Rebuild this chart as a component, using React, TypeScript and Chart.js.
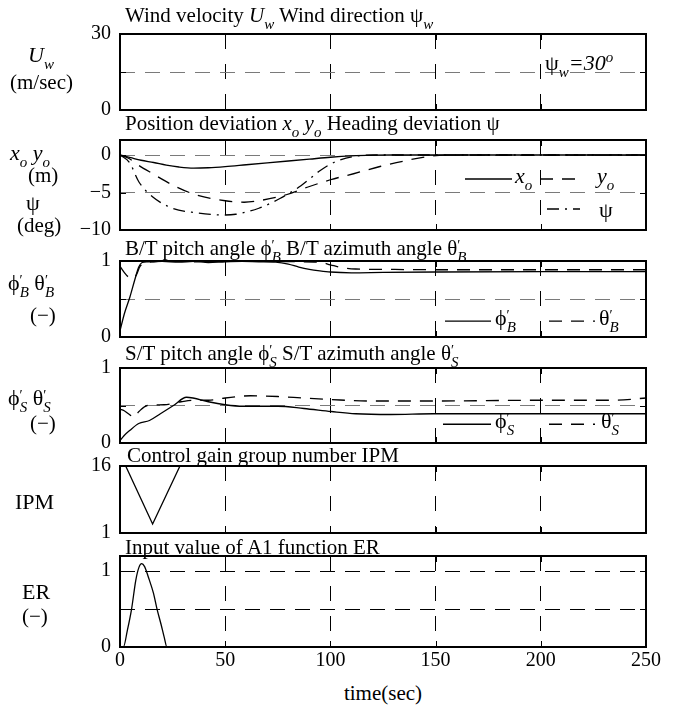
import React, { useEffect, useRef } from "react";
import { Chart, registerables } from "chart.js";
Chart.register(...registerables);

const W = 681, H = 709;
const LEFT = 120, RIGHT = 646;
const FONT = "'Liberation Serif', 'Times New Roman', Times, serif";
const GRAY = "#7a7a7a";

// ---------------- data ----------------
const X_TICKS = [0, 50, 100, 150, 200, 250];

// Panel 1: wind velocity (no visible trace – zero)
const tWind = [0, 250];
const uWind = [0, 0];

// Panel 2: position deviation x_o, y_o and heading deviation psi
const tXo = [0, 5, 10, 16, 22, 28, 35, 42, 50, 60, 70, 80, 90, 100, 110, 120, 130, 250];
const xo = [0, -0.35, -0.7, -1.0, -1.35, -1.6, -1.75, -1.7, -1.55, -1.3, -1.05, -0.8, -0.55, -0.3, -0.12, -0.03, 0, 0];
const tYo = [0, 4.5, 9, 15.6, 25, 36, 50, 59, 68, 79, 89, 100, 111, 124, 135, 148, 160, 250];
const yo = [0, -0.5, -1.4, -2.5, -4.0, -5.3, -6.1, -6.3, -6.0, -5.3, -4.3, -3.3, -2.5, -1.5, -0.8, -0.15, 0, 0];
const tPsi = [0, 4.5, 9, 15.6, 25, 36, 50, 55, 66, 76, 86, 95, 101.6, 111, 124, 250];
const psi = [0, -1, -3.6, -5.6, -7.1, -7.7, -8.0, -7.9, -7.1, -5.8, -4.1, -2.1, -1.0, -0.2, 0, 0];

// Panel 3: B/T pitch angle phi'_B and azimuth angle theta'_B
const tPhiB = [0, 2, 4.75, 7, 8.9, 10.5, 13, 20, 28, 35, 42, 50, 58, 66, 74, 80, 85, 90, 95, 100, 110, 125, 150, 200, 250];
const phiB = [0.08, 0.3, 0.53, 0.75, 0.92, 0.98, 0.99, 0.995, 0.985, 0.995, 0.98, 0.99, 0.995, 0.99, 0.985, 0.96, 0.92, 0.89, 0.87, 0.855, 0.845, 0.85, 0.855, 0.86, 0.86];
const tThB = [0, 2, 4, 6.3, 8, 9.5, 12, 16, 25, 35, 45, 55, 65, 75, 85, 95, 100, 105, 112, 125, 150, 200, 250];
const thB = [0.93, 0.85, 0.79, 0.77, 0.83, 0.93, 0.975, 0.99, 1.0, 0.99, 1.0, 0.995, 1.0, 0.995, 0.99, 0.985, 0.95, 0.915, 0.895, 0.89, 0.885, 0.885, 0.885];

// Panel 4: S/T pitch angle phi'_S and azimuth angle theta'_S
const tPhiS = [0, 2, 4.75, 8.9, 14, 19.2, 25.4, 31.6, 34.7, 42, 50, 58.5, 75, 87.4, 100.4, 112, 128.7, 149, 200, 250];
const phiS = [0.03, 0.1, 0.17, 0.26, 0.3, 0.39, 0.5, 0.61, 0.6, 0.55, 0.51, 0.49, 0.49, 0.46, 0.42, 0.39, 0.38, 0.39, 0.39, 0.39];
const tThS = [0, 2, 4.5, 6.5, 9, 13, 21, 29, 35, 42, 50, 62, 75, 87, 100, 118, 149, 200, 235, 250];
const thS = [0.45, 0.43, 0.38, 0.34, 0.42, 0.5, 0.51, 0.55, 0.57, 0.57, 0.6, 0.63, 0.62, 0.6, 0.58, 0.56, 0.56, 0.57, 0.57, 0.6];

// Panel 5: control gain group number IPM
const tIpm = [0, 2.7, 15.5, 28.5, 250];
const ipm = [16, 16, 3, 16, 16];

// Panel 6: input value of A1 function ER
const tEr = [0, 1.6, 3.5, 5.5, 7.5, 9, 10.3, 11.7, 13.5, 15.9, 17.6, 19.5, 21, 22.3, 250];
const er = [0, 0, 0.22, 0.5, 0.88, 1.05, 1.1, 1.06, 0.92, 0.71, 0.5, 0.3, 0.13, 0, 0];

// y tick values / labels
const yTicks1 = [0, 15, 30];
const yLabels1 = ["0", "", "30"];
const yTicks2 = [-10, -5, 0];
const yLabels2 = ["\u221210", "\u22125", "0"];
const yTicks3 = [0, 0.5, 1];
const yLabels3 = ["0", "", "1"];
const yTicks5 = [1, 16];
const yLabels5 = ["1", "16"];
const yTicks6 = [0, 0.5, 1];
const yLabels6 = ["0", "", "1"];

// ---------------- configuration ----------------
const SOLID: number[] = [];
const DASH = [13, 9];
const DASHDOT = [12, 6, 2, 6];

type Series = { t: number[]; v: number[]; dash: number[]; smooth: boolean };
type Leg = { x1: number; x2: number; v: number; dash: number[] };
type PanelCfg = {
  top: number; bottom: number; min: number; max: number;
  yTicks: number[]; yLabels: string[]; hGrid: number[]; hColor: string;
  series: Series[]; legend: Leg[]; last: boolean;
};

const PANELS: PanelCfg[] = [
  {
    top: 34, bottom: 110, min: 0, max: 30, yTicks: yTicks1, yLabels: yLabels1, hGrid: [15], hColor: GRAY,
    series: [{ t: tWind, v: uWind, dash: SOLID, smooth: false }], legend: [], last: false,
  },
  {
    top: 139.5, bottom: 229.5, min: -10, max: 2, yTicks: yTicks2, yLabels: yLabels2, hGrid: [0, -5], hColor: GRAY,
    series: [
      { t: tXo, v: xo, dash: SOLID, smooth: true },
      { t: tYo, v: yo, dash: DASH, smooth: true },
      { t: tPsi, v: psi, dash: DASHDOT, smooth: true },
    ],
    legend: [
      { x1: 465, x2: 512, v: -3.2, dash: SOLID },
      { x1: 540, x2: 578, v: -3.2, dash: DASH },
      { x1: 547, x2: 580, v: -7.2, dash: DASHDOT },
    ],
    last: false,
  },
  {
    top: 261, bottom: 337, min: 0, max: 1, yTicks: yTicks3, yLabels: yLabels3, hGrid: [0.5], hColor: GRAY,
    series: [
      { t: tPhiB, v: phiB, dash: SOLID, smooth: true },
      { t: tThB, v: thB, dash: DASH, smooth: true },
    ],
    legend: [
      { x1: 445, x2: 491, v: 0.21, dash: SOLID },
      { x1: 549, x2: 595, v: 0.21, dash: DASH },
    ],
    last: false,
  },
  {
    top: 367.5, bottom: 442.5, min: 0, max: 1, yTicks: yTicks3, yLabels: yLabels3, hGrid: [0.5], hColor: GRAY,
    series: [
      { t: tPhiS, v: phiS, dash: SOLID, smooth: true },
      { t: tThS, v: thS, dash: DASH, smooth: true },
    ],
    legend: [
      { x1: 443, x2: 491, v: 0.25, dash: SOLID },
      { x1: 549, x2: 595, v: 0.25, dash: DASH },
    ],
    last: false,
  },
  {
    top: 466, bottom: 533, min: 1, max: 16, yTicks: yTicks5, yLabels: yLabels5, hGrid: [], hColor: "#000",
    series: [{ t: tIpm, v: ipm, dash: SOLID, smooth: false }], legend: [], last: false,
  },
  {
    top: 556, bottom: 647, min: 0, max: 1.2, yTicks: yTicks6, yLabels: yLabels6, hGrid: [0.5, 1], hColor: "#000",
    series: [{ t: tEr, v: er, dash: SOLID, smooth: true }], legend: [], last: true,
  },
];

const PADT = 26, PADB = 26, XAXIS = 30, TICKLEN = 6;
const TRANSPARENT = "rgba(0,0,0,0)";

function Panel({ cfg }: { cfg: PanelCfg }) {
  const ref = useRef<HTMLCanvasElement>(null);
  const h = cfg.bottom - cfg.top + PADT + (cfg.last ? XAXIS : PADB);

  useEffect(() => {
    if (!ref.current) return;
    const framePlugin = {
      id: "frameAndLegend",
      afterDatasetsDraw(chart: any) {
        const { ctx, chartArea } = chart;
        const { left, right, top, bottom } = chartArea;
        const xs = chart.scales.x;
        const ys = chart.scales.y;
        ctx.save();
        ctx.strokeStyle = "#000";
        // legend line samples
        ctx.lineWidth = 1.3;
        for (const l of cfg.legend) {
          const y = ys.getPixelForValue(l.v);
          ctx.setLineDash(l.dash);
          ctx.beginPath();
          ctx.moveTo(l.x1, y);
          ctx.lineTo(l.x2, y);
          ctx.stroke();
        }
        ctx.setLineDash([]);
        // inward tick marks (top/bottom and left/right)
        ctx.lineWidth = 1;
        ctx.beginPath();
        for (const v of X_TICKS) {
          if (v <= 0 || v >= 250) continue;
          const px = Math.round(xs.getPixelForValue(v)) + 0.5;
          ctx.moveTo(px, top);
          ctx.lineTo(px, top + TICKLEN);
          ctx.moveTo(px, bottom);
          ctx.lineTo(px, bottom - TICKLEN);
        }
        for (const v of cfg.yTicks) {
          if (v <= cfg.min || v >= cfg.max) continue;
          const py = Math.round(ys.getPixelForValue(v)) + 0.5;
          ctx.moveTo(left, py);
          ctx.lineTo(left + TICKLEN, py);
          ctx.moveTo(right, py);
          ctx.lineTo(right - TICKLEN, py);
        }
        ctx.stroke();
        // frame
        ctx.lineWidth = 2;
        ctx.strokeRect(left, top, right - left, bottom - top);
        ctx.restore();
      },
    };

    const chart = new Chart(ref.current, {
      type: "line",
      data: {
        datasets: cfg.series.map((s) => ({
          data: s.t.map((t, i) => ({ x: t, y: s.v[i] })),
          borderColor: "#000",
          borderWidth: 1.3,
          borderDash: s.dash,
          pointRadius: 0,
          fill: false,
          tension: s.smooth ? 0.4 : 0,
          cubicInterpolationMode: s.smooth ? "monotone" : "default",
        })) as any,
      },
      options: {
        responsive: false,
        animation: false,
        devicePixelRatio: 1,
        layout: { padding: { left: 0, right: W - RIGHT, top: PADT, bottom: cfg.last ? 0 : PADB } },
        plugins: { legend: { display: false }, tooltip: { enabled: false } },
        scales: {
          x: {
            type: "linear",
            min: 0,
            max: 250,
            afterBuildTicks: (s: any) => {
              s.ticks = X_TICKS.map((v) => ({ value: v }));
            },
            afterFit: (s: any) => {
              s.height = cfg.last ? XAXIS : 0;
              s.paddingLeft = 0;
              s.paddingRight = 0;
            },
            ticks: {
              display: cfg.last,
              color: "#000",
              font: { family: FONT, size: 20 },
              padding: 2,
              maxRotation: 0,
              autoSkip: false,
            },
            grid: {
              drawTicks: false,
              lineWidth: 1,
              color: (c: any) => (c.tick && (c.tick.value === 0 || c.tick.value === 250) ? TRANSPARENT : "#000"),
            },
            border: { display: false, dash: [15, 15] },
          },
          y: {
            type: "linear",
            min: cfg.min,
            max: cfg.max,
            afterBuildTicks: (s: any) => {
              s.ticks = cfg.yTicks.map((v) => ({ value: v }));
            },
            afterFit: (s: any) => {
              s.width = LEFT;
              s.paddingTop = 0;
              s.paddingBottom = 0;
            },
            ticks: {
              color: "#000",
              font: { family: FONT, size: 20 },
              padding: 9,
              autoSkip: false,
              callback: (v: any) => {
                const i = cfg.yTicks.indexOf(Number(v));
                return i >= 0 ? cfg.yLabels[i] : "";
              },
            },
            grid: {
              drawTicks: false,
              lineWidth: 1,
              color: (c: any) => (c.tick && cfg.hGrid.includes(c.tick.value) ? cfg.hColor : TRANSPARENT),
            },
            border: { display: false, dash: [15, 10] },
          },
        },
      } as any,
      plugins: [framePlugin],
    });
    return () => chart.destroy();
  }, []);

  return (
    <canvas
      ref={ref}
      width={W}
      height={h}
      style={{ position: "absolute", left: 0, top: cfg.top - PADT, width: W, height: h }}
    />
  );
}

// ---------------- text helpers ----------------
const PHI = "\u03D5";
const THETA = "\u03B8";
const PSI = "\u03C8";
const MINUS_LABEL = "(\u2212)";

const Sub = ({ children }: { children: React.ReactNode }) => (
  <span style={{ fontSize: 15, fontStyle: "italic", position: "relative", top: 7 }}>{children}</span>
);
const PS = ({ s }: { s: string }) => (
  <span>
    <span style={{ fontSize: 14, position: "relative", top: -5 }}>{"\u2032"}</span>
    <span style={{ fontSize: 15, fontStyle: "italic", position: "relative", top: 7, marginLeft: -3 }}>{s}</span>
  </span>
);
const T = ({ x, y, children, size = 21, center = false }: any) => (
  <div
    style={{
      position: "absolute",
      left: x,
      top: y - 10,
      fontSize: size,
      lineHeight: "20px",
      whiteSpace: "nowrap",
      fontFamily: FONT,
      color: "#000",
      transform: center ? "translateX(-50%)" : undefined,
    }}
  >
    {children}
  </div>
);

export default function App() {
  return (
    <div style={{ position: "absolute", left: 0, top: 0, width: W, height: H, background: "#fff", overflow: "hidden" }}>
      {PANELS.map((p, i) => (
        <Panel key={i} cfg={p} />
      ))}

      {/* titles */}
      <T x={125} y={15}>
        Wind velocity <i>U</i><Sub>w</Sub> Wind direction {PSI}<Sub>w</Sub>
      </T>
      <T x={125} y={123}>
        Position deviation <i>x</i><Sub>o</Sub> <i>y</i><Sub>o</Sub> Heading deviation {PSI}
      </T>
      <T x={125} y={248}>
        B/T pitch angle {PHI}<PS s="B" /> B/T azimuth angle {THETA}<PS s="B" />
      </T>
      <T x={125} y={353}>
        S/T pitch angle {PHI}<PS s="S" /> S/T azimuth angle {THETA}<PS s="S" />
      </T>
      <T x={127} y={455}>Control gain group number IPM</T>
      <T x={125} y={547}>Input value of A1 function ER</T>

      {/* left labels */}
      <T x={28} y={55} size={22}><i>U</i><Sub>w</Sub></T>
      <T x={10} y={82}>(m/sec)</T>
      <T x={10} y={153} size={22}><i>x</i><Sub>o</Sub> <i>y</i><Sub>o</Sub></T>
      <T x={28} y={175}>(m)</T>
      <T x={26} y={203} size={22}>{PSI}</T>
      <T x={17} y={225}>(deg)</T>
      <T x={8} y={283} size={22}>{PHI}<PS s="B" /> {THETA}<PS s="B" /></T>
      <T x={30} y={315}>{MINUS_LABEL}</T>
      <T x={8} y={398} size={22}>{PHI}<PS s="S" /> {THETA}<PS s="S" /></T>
      <T x={30} y={423}>{MINUS_LABEL}</T>
      <T x={15} y={502} size={22}>IPM</T>
      <T x={22} y={592} size={22}>ER</T>
      <T x={22} y={616}>{MINUS_LABEL}</T>

      {/* annotations & legends */}
      <T x={545} y={57} size={22}>
        {PSI}<Sub>w</Sub><i>=30</i><sup style={{ fontSize: 15, fontStyle: "italic" }}>o</sup>
      </T>
      <T x={515} y={176} size={22}><i>x</i><Sub>o</Sub></T>
      <T x={597} y={176} size={22}><i>y</i><Sub>o</Sub></T>
      <T x={599} y={210} size={22}>{PSI}</T>
      <T x={495} y={318} size={22}>{PHI}<PS s="B" /></T>
      <T x={599} y={318} size={22}>{THETA}<PS s="B" /></T>
      <T x={495} y={421} size={22}>{PHI}<PS s="S" /></T>
      <T x={601} y={421} size={22}>{THETA}<PS s="S" /></T>

      <T x={383} y={693} center>time(sec)</T>
    </div>
  );
}
